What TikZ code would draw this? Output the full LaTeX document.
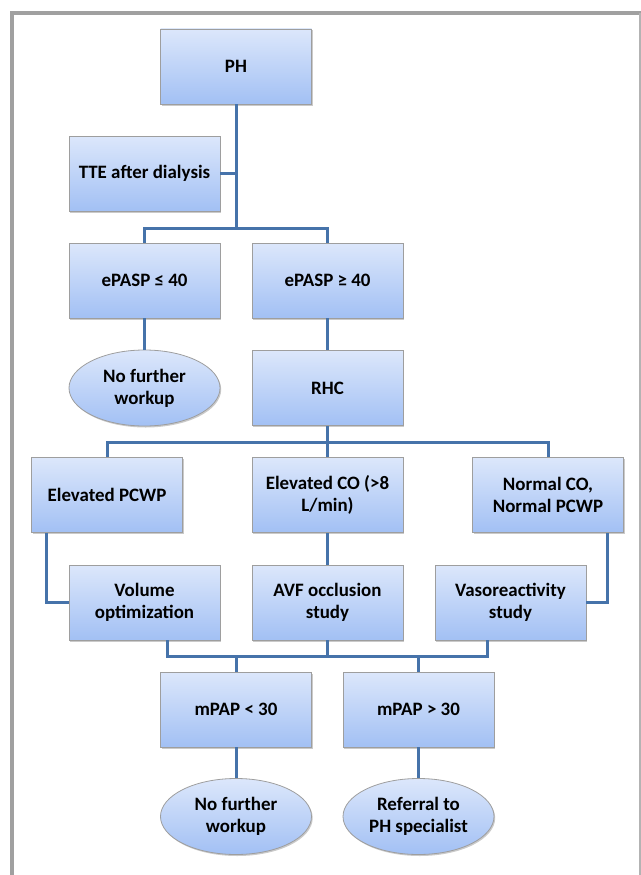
\documentclass[tikz,border=0pt]{standalone}
\usepackage{fontspec}
\setmainfont{Carlito}
\usetikzlibrary{shadows,shapes.geometric}
\definecolor{linec}{HTML}{4673AA}
\definecolor{topc}{HTML}{DCE7FB}
\definecolor{botc}{HTML}{A2C0F4}
\definecolor{edgec}{HTML}{9E9E9E}
\definecolor{framec}{HTML}{A0A0A0}
\tikzset{
  boxstyle/.style={rectangle, draw=edgec, line width=0.8bp, top color=topc, bottom color=botc,
    minimum width=151bp, minimum height=75bp, align=center, font=\bfseries\fontsize{19}{22}\selectfont,
    drop shadow={shadow xshift=1.2bp, shadow yshift=-1.5bp, opacity=0.35, fill=black!60}},
  ovalstyle/.style={ellipse, draw=edgec, line width=0.8bp, top color=topc, bottom color=botc,
    minimum width=151bp, minimum height=76bp, inner sep=0pt, align=center, font=\bfseries\fontsize{19}{22}\selectfont,
    drop shadow={shadow xshift=1.2bp, shadow yshift=-1.5bp, opacity=0.35, fill=black!60}},
  conn/.style={draw=linec, line width=3bp}
}
\begin{document}
\begin{tikzpicture}[x=1bp,y=-1bp]
\useasboundingbox (0,0) rectangle (641,875);
% frame
\draw[framec, line width=3.5bp] (12,875) -- (12,12.8) -- (641,12.8);
\draw[framec!80, line width=1.2bp] (640,12.8) -- (640,875);

% nodes
\node[boxstyle] (ph) at (236,66.5) {PH};
\node[boxstyle] (tte) at (144.5,173.5) {TTE after dialysis};
\node[boxstyle] (le) at (144.5,280.5) {ePASP ≤ 40};
\node[boxstyle] (ge) at (327.5,280.5) {ePASP ≥ 40};
\node[ovalstyle] (nf1) at (144.5,388) {No further\\workup};
\node[boxstyle] (rhc) at (327.5,388) {RHC};
\node[boxstyle] (pcwp) at (107,495) {Elevated PCWP};
\node[boxstyle] (eco) at (327.5,495) {Elevated CO (>8\\L/min)};
\node[boxstyle] (nco) at (548,495) {Normal CO,\\Normal PCWP};
\node[boxstyle] (vol) at (144.5,602.5) {Volume\\optimization};
\node[boxstyle] (avf) at (327.5,602.5) {AVF occlusion\\study};
\node[boxstyle] (vaso) at (510.5,602.5) {Vasoreactivity\\study};
\node[boxstyle] (lt) at (236,709.5) {mPAP < 30};
\node[boxstyle] (gt) at (418.5,709.5) {mPAP > 30};
\node[ovalstyle] (nf2) at (236,816.5) {No further\\workup};
\node[ovalstyle] (ref) at (418.5,816.5) {Referral to\\PH specialist};

% junction coordinates
\coordinate (j1) at (236,228);
\coordinate (j2) at (327.5,442);
\coordinate (j3) at (327.5,656);

% connectors
\draw[conn] (ph.south) -- (j1);
\draw[conn] (tte.east) -- (tte.east -| j1);
\draw[conn] (le.north) |- (j1) -| (ge.north);
\draw[conn] (le.south) -- (nf1.north);
\draw[conn] (ge.south) -- (rhc.north);
\draw[conn] (rhc.south) -- (eco.north);
\draw[conn] (pcwp.north) |- (j2) -| (nco.north);
\draw[conn] ([xshift=-60bp]pcwp.south) |- (vol.west);
\draw[conn] (eco.south) -- (avf.north);
\draw[conn] ([xshift=59bp]nco.south) |- (vaso.east);
\draw[conn] ([xshift=22.5bp]vol.south) |- (j3) -| ([xshift=-23.5bp]vaso.south);
\draw[conn] (avf.south) -- (j3);
\draw[conn] (lt.north) -- (lt.north |- j3);
\draw[conn] (gt.north) -- (gt.north |- j3);
\draw[conn] (lt.south) -- (nf2.north);
\draw[conn] (gt.south) -- (ref.north);
\end{tikzpicture}
\end{document}
